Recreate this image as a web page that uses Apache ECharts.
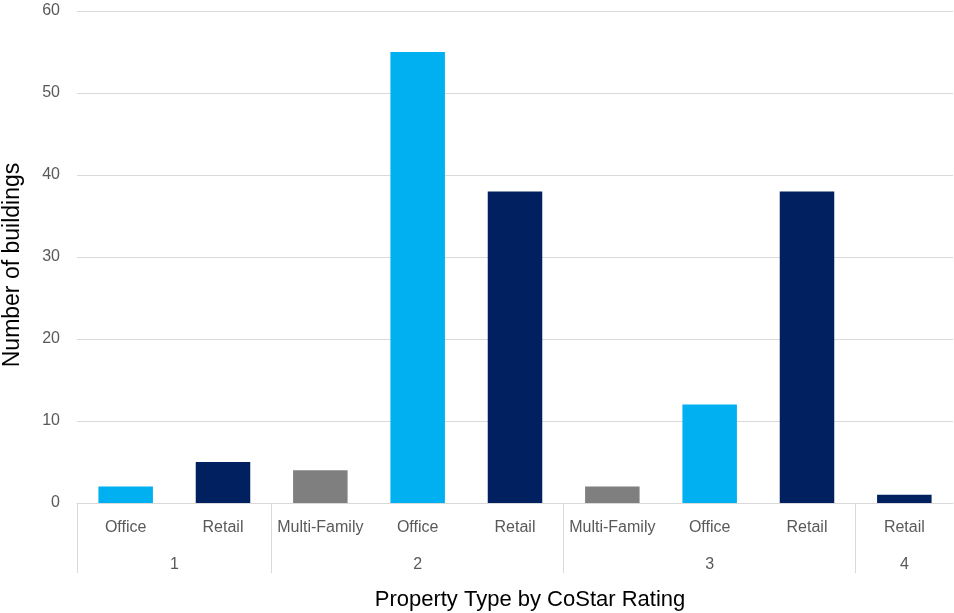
<!DOCTYPE html>
<html>
<head>
<meta charset="utf-8">
<script src="https://cdn.jsdelivr.net/npm/echarts@6/dist/echarts.min.js"></script>
<style>
  html, body { margin: 0; padding: 0; background: #fff; }
  #chart { width: 954px; height: 613px; }
</style>
</head>
<body>
<div id="chart"></div>
<script>
// Property types, grouped by CoStar rating
const propertyTypes = ['Office', 'Retail', 'Multi-Family', 'Office', 'Retail', 'Multi-Family', 'Office', 'Retail', 'Retail'];
const ratings = ['1', '1', '2', '2', '2', '3', '3', '3', '4'];
const buildingCounts = [2, 5, 4, 55, 38, 2, 12, 38, 1];
const yTicks = [0, 10, 20, 30, 40, 50, 60];

const typeColors = { 'Office': '#00B0F0', 'Retail': '#002060', 'Multi-Family': '#7F7F7F' };

// Build the group (rating) axis on a half-category grid: one point per half slot
const halfCount = propertyTypes.length * 2;
const groupAxisData = new Array(halfCount + 1).fill('');
const groupTickIdx = new Set();
let start = 0;
for (let i = 1; i <= ratings.length; i++) {
  if (i === ratings.length || ratings[i] !== ratings[start]) {
    groupTickIdx.add(start * 2);
    groupAxisData[start + i] = ratings[start]; // centre of group in half units
    start = i;
  }
}

const labelFont = 'Liberation Sans, Arial, sans-serif';
const chart = echarts.init(document.getElementById('chart'));
chart.setOption({
  animation: false,
  grid: { left: 77, right: 1, top: 11, bottom: 110, outerBoundsMode: 'none', containLabel: false },
  xAxis: [
    {
      type: 'category',
      data: propertyTypes,
      axisLine: { lineStyle: { color: '#D9D9D9', width: 1 } },
      axisTick: { show: false },
      axisLabel: { color: '#595959', fontSize: 16, fontFamily: labelFont, margin: 17, interval: 0 },
      name: 'Property Type by CoStar Rating',
      nameLocation: 'middle',
      nameGap: 86,
      nameTextStyle: { color: '#000', fontSize: 22, fontFamily: labelFont, padding: [0, 0, 0, 30] }
    },
    {
      type: 'category',
      position: 'bottom',
      boundaryGap: false,
      data: groupAxisData,
      axisLine: { show: false },
      axisTick: {
        show: true,
        length: 70,
        interval: (idx) => groupTickIdx.has(idx),
        lineStyle: { color: '#D9D9D9', width: 1 }
      },
      axisLabel: {
        color: '#595959', fontSize: 16, fontFamily: labelFont, margin: 54,
        interval: (idx, val) => val !== ''
      },
      splitLine: { show: false }
    }
  ],
  yAxis: {
    type: 'value',
    min: yTicks[0],
    max: yTicks[yTicks.length - 1],
    interval: yTicks[1] - yTicks[0],
    axisLine: { show: false },
    axisTick: { show: false },
    splitLine: { lineStyle: { color: '#D9D9D9', width: 1 } },
    axisLabel: { color: '#595959', fontSize: 16, fontFamily: labelFont, margin: 17 },
    name: 'Number of buildings',
    nameLocation: 'middle',
    nameGap: 53,
    nameTextStyle: { color: '#000', fontSize: 23, fontFamily: labelFont, padding: [0, 16, 0, 0] }
  },
  series: [{
    type: 'bar',
    xAxisIndex: 0,
    barCategoryGap: '44%',
    data: buildingCounts.map((v, i) => ({
      value: v,
      itemStyle: { color: typeColors[propertyTypes[i]] }
    }))
  }]
});
</script>
</body>
</html>
